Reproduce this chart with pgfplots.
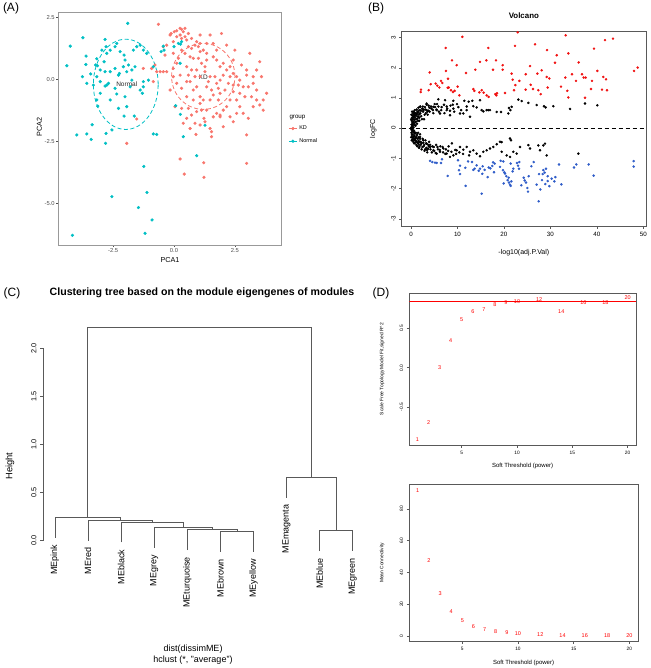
\documentclass[border=0pt]{standalone}
\usepackage{fontspec}
\setmainfont{Liberation Sans}
\usepackage{pgfplots}
\pgfplotsset{compat=1.18}
\definecolor{kd}{HTML}{F8766D}
\definecolor{nm}{HTML}{00BFC4}
\definecolor{vblue}{HTML}{2E5CC8}
\definecolor{vred}{HTML}{F01010}
\newcommand{\fs}[1]{\fontsize{#1}{#1}\selectfont}
\pgfplotsset{
  every axis/.append style={scale only axis, anchor=south west,
    /pgf/number format/assume math mode=true},
  rplot/.style={
    axis line style={black!65, line width=0.6pt},
    tick align=outside, major tick length=2.5pt,
    tick style={black!65, line width=0.5pt},
    tick pos=left,
    yticklabel style={rotate=90, anchor=south},
  },
}
\begin{document}
\begin{tikzpicture}
\useasboundingbox (0,0) rectangle (650pt,-668pt);

% ---------------- (A) PCA ----------------
\begin{axis}[
  at={(58.3pt,-245pt)}, width=223.4pt, height=232.3pt,
  xmin=-4.75, xmax=4.42, ymin=-6.68, ymax=2.69,
  xtick={-2.5,0,2.5}, ytick={-5,-2.5,0,2.5},
  axis line style={black!40, line width=0.6pt},
  tick align=outside, major tick length=2pt,
  tick style={black!70, line width=0.4pt}, tick pos=left,
  ticklabel style={font=\fs{5.8}, text=black!70, inner sep=1.5pt,
    /pgf/number format/.cd, fixed, fixed zerofill, precision=1},
  every axis x label/.style={at={(axis description cs:0.5,-0.066)}, anchor=center, font=\fs{7.2}},
  every axis y label/.style={at={(axis description cs:-0.085,0.508)}, rotate=90, anchor=center, font=\fs{7.2}},
  xlabel={PCA1}, ylabel={PCA2},
  legend style={at={(axis description cs:1.03,0.522)}, anchor=north west,
    draw=none, fill=none, font=\fs{5.5}, inner sep=0pt, row sep=3.2pt},
  legend cell align=left,
  legend image code/.code={
    \draw[#1, mark=none, solid, line width=0.7pt] (0pt,0pt) -- (8pt,0pt);
    \draw[#1] plot coordinates {(4pt,0pt)};},
]
\addplot[only marks, mark=*, mark size=1.4pt, color=kd] coordinates {
(-0.64,2.22) (-0.12,1.85) (0.01,1.92) (0.11,1.96) (0.25,2.06) (0.31,2.02) (0.38,1.92)
(0.25,1.79) (0.11,1.72) (0.31,1.65) (0.45,1.72) (0.52,1.59) (-0.03,1.52) (-0.16,1.79)
(-0.30,1.38) (-0.44,1.32) (0.59,1.32) (0.72,1.25) (0.86,1.38) (1.00,1.32) (1.07,1.45)
(1.20,1.18) (1.34,1.05) (1.48,1.79) (1.95,1.85) (2.16,1.38) (2.50,1.18) (3.11,1.05)
(3.52,0.71) (2.98,0.38) (3.25,0.11) (3.59,0.11) (3.80,-0.56) (3.66,-0.83) (3.39,-0.43)
(3.05,-0.30) (2.84,-0.30) (2.70,-0.56) (2.43,-0.50) (2.57,-0.83) (2.30,-0.83) (2.16,-1.10)
(2.02,-1.24) (1.89,-1.44) (1.82,-0.83) (1.61,-0.63) (1.54,-0.43) (1.34,-0.30) (1.20,-0.83)
(1.07,-0.70) (0.93,-0.30) (0.79,-0.43) (0.66,-0.09) (0.59,0.17) (0.25,0.17) (-0.03,0.11)
(-0.16,-0.43) (-0.30,0.31) (-0.44,0.31) (-0.57,0.31) (-0.71,0.31) (-0.85,-0.09) (-0.92,0.44)
(-0.78,0.58) (0.31,1.18) (0.45,1.05) (0.66,0.91) (0.79,0.85) (1.00,0.85) (1.13,0.65)
(1.27,0.51) (1.34,0.78) (1.61,0.91) (1.75,0.78) (1.89,0.51) (2.02,0.65) (2.16,0.38)
(2.30,0.51) (2.43,0.24) (2.57,0.11) (2.70,-0.03) (1.89,-0.03) (1.75,-0.16) (1.68,0.11)
(1.48,0.11) (1.07,0.11) (0.93,0.38) (0.72,0.38) (0.52,0.51) (0.11,0.65) (0.04,-1.10)
(0.31,-1.17) (0.59,-1.17) (0.72,-1.44) (0.93,-1.30) (1.13,-1.24) (1.23,-1.57) (1.27,-1.71)
(1.07,-1.84) (0.86,-1.77) (0.66,-1.98) (0.52,-1.57) (0.38,-1.77) (1.48,-1.98) (1.54,-2.11)
(1.54,-2.31) (1.61,-1.51) (1.89,-1.51) (2.02,-1.91) (2.30,-1.51) (2.43,-1.71) (2.57,-1.37)
(2.70,-1.10) (2.84,-1.37) (3.05,-1.57) (3.25,-1.10) (3.52,-1.03) (3.66,-1.24) (2.98,-2.24)
(1.75,-1.37) (1.34,-1.24) (0.90,-2.22) (0.25,-3.21) (0.42,-3.82) (1.22,-3.36) (1.23,-3.95)
(2.98,-3.39) (-1.94,-2.58) (-1.53,-1.60) (-1.26,0.44) (0.45,2.06) (0.59,1.85) (0.72,1.65)
(0.93,1.52) (1.07,1.12) (1.61,1.45) (1.75,1.18) (2.43,0.78) (2.77,0.58) (2.98,0.17)
(3.25,-0.16) (3.39,0.38) (2.64,-0.23) (2.23,-0.16) (2.09,-0.43) (1.89,-0.56) (1.48,-0.83)
(1.07,-0.97) (0.79,-0.83) (0.52,-0.70) (0.31,-0.36) (0.11,-0.16) (-0.03,0.44) (-0.37,0.98)
(-0.03,1.05) (0.18,0.85) (1.41,-0.09) (1.82,-0.36) (2.43,-0.23) (3.18,-0.70) (3.39,-0.83)
(0.52,-0.09) (0.86,0.11) (1.27,0.31) (2.02,0.17) (2.91,-0.70) (2.30,0.11) (1.34,1.45)
(1.07,1.79)
};
\addlegendentry{KD}
\addplot[only marks, mark=*, mark size=1.4pt, color=nm] coordinates {
(-1.90,2.26) (-4.26,1.34) (-3.74,1.68) (-4.40,0.55) (-3.61,0.94) (-3.62,0.60) (-3.76,0.11)
(-3.42,0.22) (-3.17,0.83) (-3.14,0.55) (-2.83,1.61) (-2.79,1.32) (-2.96,1.18) (-3.22,0.58)
(-3.03,0.38) (-2.87,0.71) (-2.76,1.05) (-2.62,1.18) (-2.42,1.32) (-2.35,1.45) (-2.21,1.12)
(-2.05,0.98) (-2.01,0.78) (-1.87,0.58) (-1.73,0.38) (-1.67,1.18) (-1.53,1.32) (-1.39,1.38)
(-1.26,1.18) (-1.12,1.05) (-2.83,0.31) (-2.62,0.31) (-2.42,0.44) (-2.24,0.24) (-2.08,0.51)
(-1.94,0.31) (-2.76,-0.23) (-2.83,-0.27) (-2.69,-0.16) (-3.03,-0.09) (-3.17,-0.83)
(-3.13,-1.08) (-2.62,-0.83) (-2.28,-1.17) (-2.05,-1.48) (-1.63,-1.48) (-1.26,-0.09)
(-1.26,-0.30) (-1.05,-0.03) (-1.30,-0.56) (-0.85,0.51) (-0.53,1.12) (-0.41,1.18) (0.00,1.32)
(0.18,1.45) (0.31,1.52) (0.27,1.42) (0.25,0.65) (-0.71,-2.22) (-3.99,-2.24) (-3.58,-2.20)
(-3.40,-2.42) (-3.36,-1.83) (-2.79,-2.18) (-2.81,-2.58) (-2.55,-2.04) (-0.85,-2.20)
(0.07,-1.06) (0.26,-1.41) (0.38,-2.31) (1.27,-1.85) (0.93,-3.08) (-1.24,-3.51) (-2.55,-4.73)
(-1.11,-4.56) (-1.46,-5.17) (-0.90,-5.67) (-1.19,-6.21) (-4.17,-6.29) (-0.44,1.34)
(-1.60,0.51) (-1.73,-0.03) (-1.80,-0.30) (-2.28,0.17) (-2.42,-0.36) (-2.01,-0.70)
(-3.03,-0.56) (-2.35,-0.59) (-1.39,-0.43) (-1.94,-1.10) (-3.17,0.11) (-3.58,-0.16)
(-3.31,-0.23)
};
\addlegendentry{Normal}
\draw[nm, dash pattern=on 4pt off 2.5pt, line width=0.8pt]
  (axis cs:-1.98,-0.20) ellipse [x radius=1.33, y radius=1.82];
\draw[kd, dash pattern=on 4pt off 2.5pt, line width=0.8pt]
  (axis cs:1.20,0.12) ellipse [x radius=1.30, y radius=1.33];
\node[font=\fs{6.5}, text=black!85] at (axis cs:-1.94,-0.20) {Normal};
\node[font=\fs{6.5}, text=black!85] at (axis cs:1.20,0.08) {KD};
\end{axis}
\node[font=\fs{6.2}, anchor=west] at (286pt,-117pt) {group};

% ---------------- (B) Volcano ----------------
\begin{axis}[rplot,
  at={(401.7pt,-226pt)}, width=244.3pt, height=194.3pt,
  xmin=-2.0, xmax=50.57, ymin=-3.24, ymax=3.2,
  xtick={0,10,...,50}, ytick={-3,...,3},
  ticklabel style={font=\fs{6.2}},
  title={Volcano},
  every axis title/.style={at={(axis description cs:0.5,1.082)}, anchor=center, font=\bfseries\fs{7.9}},
  every axis x label/.style={at={(axis description cs:0.5,-0.135)}, anchor=center, font=\fs{7}},
  every axis y label/.style={at={(axis description cs:-0.116,0.5)}, rotate=90, anchor=center, font=\fs{7}},
  xlabel={-log10(adj.P.Val)}, ylabel={logFC},
]
\addplot[only marks, mark=*, mark size=1.05pt, black] coordinates {
(5.88,0.96) (7.32,0.93) (9.11,0.91) (11.48,0.91) (12.41,0.88) (13.20,0.91) (15.21,0.60)
(15.57,0.56) (16.28,0.60) (16.64,0.60) (17.00,0.60) (18.44,0.54) (19.37,0.54) (20.95,0.49)
(21.09,0.67) (21.38,0.60) (21.66,0.71) (23.10,0.95) (23.82,0.90) (25.25,0.84) (27.04,0.77)
(28.62,0.73) (28.98,0.69) (30.63,0.73) (37.45,0.82) (40.10,0.76) (34.22,0.64) (1.22,0.46)
(1.94,0.71) (2.65,0.60) (3.37,0.82) (4.81,0.71) (5.52,0.60) (6.24,0.49) (7.68,0.60)
(8.39,0.43) (9.11,0.65) (10.55,0.49) (11.26,0.49) (11.98,0.60) (12.70,0.38) (13.41,0.73)
(14.13,0.69) (14.85,0.93)
(1.94,-0.29) (2.65,-0.40) (3.37,-0.51) (4.09,-0.62) (4.81,-0.73) (5.52,-0.84) (6.24,-0.78)
(6.96,-0.67) (7.68,-0.84) (8.39,-0.95) (9.11,-0.90) (9.83,-0.73) (10.55,-0.62) (11.26,-0.71)
(11.98,-0.62) (12.70,-0.78) (13.41,-0.73) (14.13,-0.84) (14.85,-0.93) (15.57,-0.78)
(16.28,-0.73) (17.00,-0.67) (17.72,-0.62) (18.44,-0.53) (19.15,-0.45) (19.51,-0.46)
(21.31,-0.34) (21.52,-0.40) (22.02,-0.78) (22.74,-0.84) (23.46,-0.62) (25.25,-0.56)
(25.61,-0.67) (27.40,-0.57) (27.76,-0.73) (28.48,-0.57) (28.84,-0.51) (29.20,-0.90)
(36.01,-0.84) (20.59,-0.90) (21.31,-0.95) (19.51,-0.78)
(0.05,0.02) (0.08,-0.05) (0.10,0.12) (0.12,-0.15) (0.15,0.25) (0.18,-0.22) (0.20,0.05)
(0.22,0.35) (0.25,-0.30) (0.28,0.18) (0.30,-0.10) (0.32,0.42) (0.35,-0.38) (0.38,0.30)
(0.40,-0.20) (0.42,0.08) (0.45,0.50) (0.48,-0.45) (0.50,0.22) (0.52,-0.28) (0.55,0.38)
(0.58,-0.12) (0.60,0.55) (0.62,-0.40) (0.65,0.15) (0.68,-0.50) (0.70,0.45) (0.72,-0.25)
(0.75,0.28) (0.78,-0.35) (0.80,0.60) (0.82,-0.18) (0.85,0.35) (0.88,-0.48) (0.90,0.20)
(0.95,-0.30) (1.00,0.50) (1.05,-0.42) (1.10,0.30) (1.15,-0.55) (1.20,0.62) (1.25,-0.25)
(1.30,0.40) (1.35,-0.60) (1.40,0.55) (1.45,-0.35) (1.50,0.25) (1.55,-0.50) (1.60,0.68)
(1.65,-0.30) (1.70,0.45) (1.75,-0.65) (1.80,0.35) (1.85,-0.45) (1.90,0.60) (1.95,-0.20)
(2.00,0.50) (2.10,-0.55) (2.20,0.40) (2.30,-0.70) (2.40,0.65) (2.50,-0.35) (2.60,0.55)
(2.70,-0.60) (2.80,0.30) (2.90,-0.75) (3.00,0.70) (3.10,-0.40) (3.20,0.50) (3.30,-0.65)
(3.40,0.60) (3.50,-0.80) (3.60,0.45) (3.70,-0.55) (3.80,0.75) (3.90,-0.45) (4.00,0.55)
(4.20,-0.70) (4.40,0.65) (4.60,-0.60) (4.80,0.50) (5.00,-0.75) (5.20,0.70) (5.40,-0.55)
(5.60,0.80) (5.80,-0.70) (6.00,0.55) (6.30,-0.60) (6.60,0.70) (6.90,-0.80) (7.20,0.50)
(7.50,-0.70) (7.80,0.65) (8.10,-0.60) (8.50,0.75) (8.80,-0.50) (9.30,0.55) (9.70,-0.85)
(10.20,0.70)
(0.03,0.30) (0.06,-0.30) (0.09,0.45) (0.14,0.00) (0.16,-0.40) (0.24,0.55) (0.27,0.00)
(0.33,-0.05) (0.36,0.12) (0.44,-0.33) (0.46,0.30) (0.54,0.02) (0.57,0.48) (0.63,-0.08)
(0.66,0.40) (0.74,-0.15) (0.76,0.50) (0.84,0.10) (0.86,-0.38) (0.92,0.42) (0.97,0.08)
(1.02,-0.15) (1.08,0.22) (1.12,-0.32) (1.18,0.48) (1.22,-0.45) (1.28,0.15) (1.32,-0.20)
(1.38,0.32) (1.42,-0.48) (1.48,0.52) (1.52,-0.15) (1.58,0.38) (1.62,-0.42) (1.68,0.58)
(1.72,-0.55) (1.78,0.25) (1.82,-0.62) (1.88,0.48) (1.92,-0.35) (1.98,0.72) (2.05,-0.45)
(2.15,0.58) (2.25,-0.50) (2.35,0.30) (2.45,-0.62) (2.55,0.72) (2.65,-0.48) (2.75,0.62)
(2.85,-0.55) (2.95,0.45) (3.05,-0.70) (3.15,0.62) (3.25,-0.50) (3.35,0.78) (3.45,-0.72)
(3.55,0.55) (3.65,-0.68) (3.75,0.58) (3.85,-0.60) (3.95,0.68) (4.10,-0.55) (4.30,0.72)
(4.50,-0.80) (4.70,0.60) (4.90,-0.62) (5.10,0.80) (5.30,-0.82) (5.50,0.62) (5.70,-0.62)
(5.90,0.72) (6.20,-0.72) (6.50,0.60) (6.80,-0.62) (7.10,0.78) (7.40,-0.85) (7.70,0.72)
(8.00,-0.75) (8.40,0.58) (8.70,-0.78) (9.00,0.78) (9.50,-0.72) (9.90,0.80) (10.40,-0.80)
(10.80,0.60) (11.20,-0.85) (12.00,0.72) (12.50,-0.90)
};
\addplot[only marks, mark=*, mark size=1.05pt, color=vred] coordinates {
(11.05,3.03) (22.96,3.18) (33.29,3.08) (41.75,2.92) (43.47,2.97) (7.46,2.66) (16.64,2.66)
(22.38,2.73) (26.69,2.78) (29.27,2.59) (31.35,2.42) (33.86,2.48) (39.38,2.64) (8.82,2.25)
(9.83,2.09) (14.85,2.20) (16.21,2.25) (18.29,2.25) (19.73,2.09) (19.73,1.94) (25.61,2.06)
(28.12,1.92) (30.99,2.17) (36.08,2.18) (40.10,1.90) (47.99,1.90) (48.78,2.01) (4.02,1.85)
(7.53,1.90) (11.84,1.83) (13.85,1.94) (17.65,1.94) (21.66,1.81) (21.88,1.61) (23.31,1.57)
(24.68,1.79) (27.19,1.81) (29.20,1.70) (29.77,1.65) (33.21,1.68) (34.65,1.79) (36.80,1.79)
(37.16,1.68) (38.95,1.57) (41.39,1.70) (41.97,1.62) (3.80,1.26) (2.15,1.28) (2.08,1.20)
(4.23,1.46) (5.31,1.48) (5.67,1.41) (6.10,1.35) (6.46,1.57) (6.74,1.50) (7.96,1.64)
(8.11,1.35) (8.61,1.26) (9.04,1.20) (9.40,1.24) (10.04,1.38) (10.40,1.09) (7.89,1.34)
(13.41,1.30) (13.63,1.24) (14.71,1.19) (15.21,1.26) (15.64,1.18) (16.28,1.09) (16.71,1.04)
(18.15,1.13) (18.36,1.09) (18.51,1.16) (20.23,1.17) (22.17,1.26) (22.45,1.43) (24.68,1.28)
(25.75,1.44) (26.26,1.30) (27.40,1.26) (27.91,1.13) (29.41,1.35) (32.28,1.38) (33.64,1.24)
(33.86,1.02) (35.51,1.57) (37.45,1.01) (38.74,1.30) (41.10,1.28) (42.18,1.26) (37.59,1.68)
};
\addplot[only marks, mark=*, mark size=1.05pt, color=vblue] coordinates {
(4.09,-1.08) (4.59,-1.12) (5.16,-1.14) (5.52,-1.15) (6.67,-1.03) (7.89,-1.58) (10.11,-1.06)
(10.55,-1.24) (10.33,-1.39) (10.55,-1.52) (11.69,-1.31) (11.76,-1.91) (12.27,-1.10)
(13.13,-1.12) (13.41,-1.38) (13.70,-1.34) (14.13,-1.23) (14.56,-1.41) (14.85,-1.34)
(15.42,-1.26) (15.35,-1.51) (15.85,-1.38) (16.50,-1.62) (16.71,-1.30) (17.07,-1.33)
(17.50,-1.25) (17.65,-1.13) (17.86,-1.46) (18.01,-1.17) (19.15,-1.28) (19.30,-1.08)
(19.80,-1.39) (19.87,-1.10) (20.09,-1.46) (19.94,-1.83) (20.23,-1.50) (20.52,-1.59)
(20.80,-1.72) (21.02,-1.64) (21.09,-1.80) (21.31,-1.87) (21.59,-1.76) (21.45,-1.91)
(21.45,-1.17) (21.88,-1.43) (22.02,-1.34) (22.81,-1.15) (23.03,-1.24) (23.24,-1.34)
(23.31,-1.12) (23.74,-1.89) (24.25,-1.64) (24.46,-1.73) (24.75,-1.80) (25.04,-1.98)
(25.18,-2.10) (25.32,-1.59) (25.90,-1.26) (26.40,-1.12) (27.04,-1.87) (27.55,-1.52)
(27.83,-2.03) (28.19,-1.72) (28.34,-1.52) (28.48,-1.39) (28.77,-1.47) (28.91,-1.85)
(29.05,-1.34) (29.41,-1.59) (29.41,-1.75) (29.77,-1.92) (30.27,-1.67) (30.85,-1.76)
(31.06,-1.62) (31.85,-1.20) (32.35,-1.86) (35.08,-1.30) (35.58,-1.20) (38.24,-1.20)
(39.31,-1.57) (47.92,-1.09) (47.92,-1.27) (15.21,-2.17) (27.47,-2.42) (6.46,-1.15)
};
\addplot[black, line width=1.1pt, dash pattern=on 4pt off 3pt] coordinates {(-2.0,0) (50.57,0)};
\end{axis}

% ---------------- (C) Dendrogram ----------------
\begin{axis}[
  at={(43pt,-540.7pt)}, width=309.7pt, height=192.4pt,
  xmin=0.64, xmax=10, ymin=0, ymax=2, clip=false,
  hide x axis, axis y line*=left,
  axis line style={black!65, line width=0.6pt},
  ytick={0,0.5,...,2}, tick align=outside, major tick length=3pt,
  tick style={black!65, line width=0.5pt},
  yticklabel style={rotate=90, anchor=south, font=\fs{7.3},
    /pgf/number format/.cd, fixed, fixed zerofill, precision=1},
  dendro/.style={black!65, line width=0.6pt, mark=none},
]
\addplot[dendro] coordinates {(6,-0.117) (6,0.095) (7,0.095) (7,-0.117)};
\addplot[dendro] coordinates {(5,-0.097) (5,0.115) (6.5,0.115) (6.5,0.095)};
\addplot[dendro] coordinates {(4,-0.074) (4,0.138) (5.75,0.138) (5.75,0.115)};
\addplot[dendro] coordinates {(3,-0.017) (3,0.195) (4.875,0.195) (4.875,0.138)};
\addplot[dendro] coordinates {(2,0.0) (2,0.212) (3.9375,0.212) (3.9375,0.195)};
\addplot[dendro] coordinates {(1,0.033) (1,0.245) (2.96875,0.245) (2.96875,0.212)};
\addplot[dendro] coordinates {(9,-0.108) (9,0.104) (10,0.104) (10,-0.108)};
\addplot[dendro] coordinates {(8,0.447) (8,0.659) (9.5,0.659) (9.5,0.104)};
\addplot[dendro] coordinates {(1.984,0.245) (1.984,2.215) (8.75,2.215) (8.75,0.659)};
\addplot[draw=none, mark=none, nodes near coords, point meta=explicit symbolic,
  every node near coord/.append style={rotate=90, anchor=east, inner xsep=7pt,
    inner ysep=0pt, font=\fs{9}, text=black}]
  table[x=x, y=y, meta=lab] {
lab x y
MEpink 1 0.033
MEred 2 0.0
MEblack 3 -0.017
MEgrey 4 -0.074
MEturquoise 5 -0.097
MEbrown 6 -0.117
MEyellow 7 -0.117
MEmagenta 8 0.447
MEblue 9 -0.108
MEgreen 10 -0.108
};
\end{axis}
\node[font=\fs{9.3}, rotate=90] at (10pt,-466pt) {Height};
\node[font=\fs{9}] at (193pt,-649pt) {dist(dissimME)};
\node[font=\fs{9}] at (193pt,-660pt) {hclust (*, "average")};
\node[font=\bfseries\fs{10.6}] at (202pt,-293pt) {Clustering tree based on the module eigengenes of modules};

% ---------------- (D) top ----------------
\begin{axis}[rplot,
  at={(409.3pt,-445pt)}, width=226.7pt, height=151.7pt,
  xmin=0.26, xmax=20.76, ymin=-0.986, ymax=0.949,
  xtick={5,10,15,20}, ytick={-0.5,0,0.5},
  ticklabel style={font=\fs{4.8}},
  yticklabel style={/pgf/number format/.cd, fixed, fixed zerofill, precision=1},
  every axis x label/.style={at={(axis description cs:0.5,-0.136)}, anchor=center, font=\fs{6}},
  every axis y label/.style={at={(axis description cs:-0.12,0.5)}, rotate=90, anchor=center, font=\fs{4.9}},
  xlabel={Soft Threshold (power)}, ylabel={Scale Free Topology Model Fit,signed R\^{}2},
]
\addplot[color=red, line width=0.6pt] coordinates {(0.26,0.85) (20.76,0.85)};
\addplot[draw=none, mark=none, nodes near coords, point meta=x,
  every node near coord/.append style={anchor=center, inner sep=0pt, font=\fs{5.5}, text=red}]
  coordinates {(1,-0.913) (2,-0.705) (3,0.00) (4,0.34) (5,0.61) (6,0.71) (7,0.74) (8,0.80)
  (9,0.825) (10,0.845) (12,0.87) (14,0.72) (16,0.83) (18,0.83) (20,0.90)};
\end{axis}

% ---------------- (D) bottom ----------------
\begin{axis}[rplot,
  at={(409.3pt,-641.3pt)}, width=228.5pt, height=157pt,
  xmin=0.24, xmax=20.76, ymin=-3.33, ymax=95.4,
  xtick={5,10,15,20}, ytick={0,20,...,80},
  ticklabel style={font=\fs{4.8}},
  every axis x label/.style={at={(axis description cs:0.5,-0.138)}, anchor=center, font=\fs{6}},
  every axis y label/.style={at={(axis description cs:-0.119,0.5)}, rotate=90, anchor=center, font=\fs{4.9}},
  xlabel={Soft Threshold (power)}, ylabel={Mean Connectivity},
]
\addplot[draw=none, mark=none, nodes near coords, point meta=x,
  every node near coord/.append style={anchor=center, inner sep=0pt, font=\fs{5.5}, text=red}]
  coordinates {(1,91.2) (2,47.2) (3,26.4) (4,15.5) (5,9.6) (6,6.1) (7,4.0) (8,2.7)
  (9,1.9) (10,1.3) (12,0.6) (14,0.4) (16,0.3) (18,0.2) (20,0.1)};
\end{axis}

\node[font=\fs{12}] at (11pt,-8pt) {(A)};
\node[font=\fs{12}] at (376pt,-8pt) {(B)};
\node[font=\fs{12}] at (12pt,-293pt) {(C)};
\node[font=\fs{12}] at (381pt,-293pt) {(D)};
\end{tikzpicture}
\end{document}
